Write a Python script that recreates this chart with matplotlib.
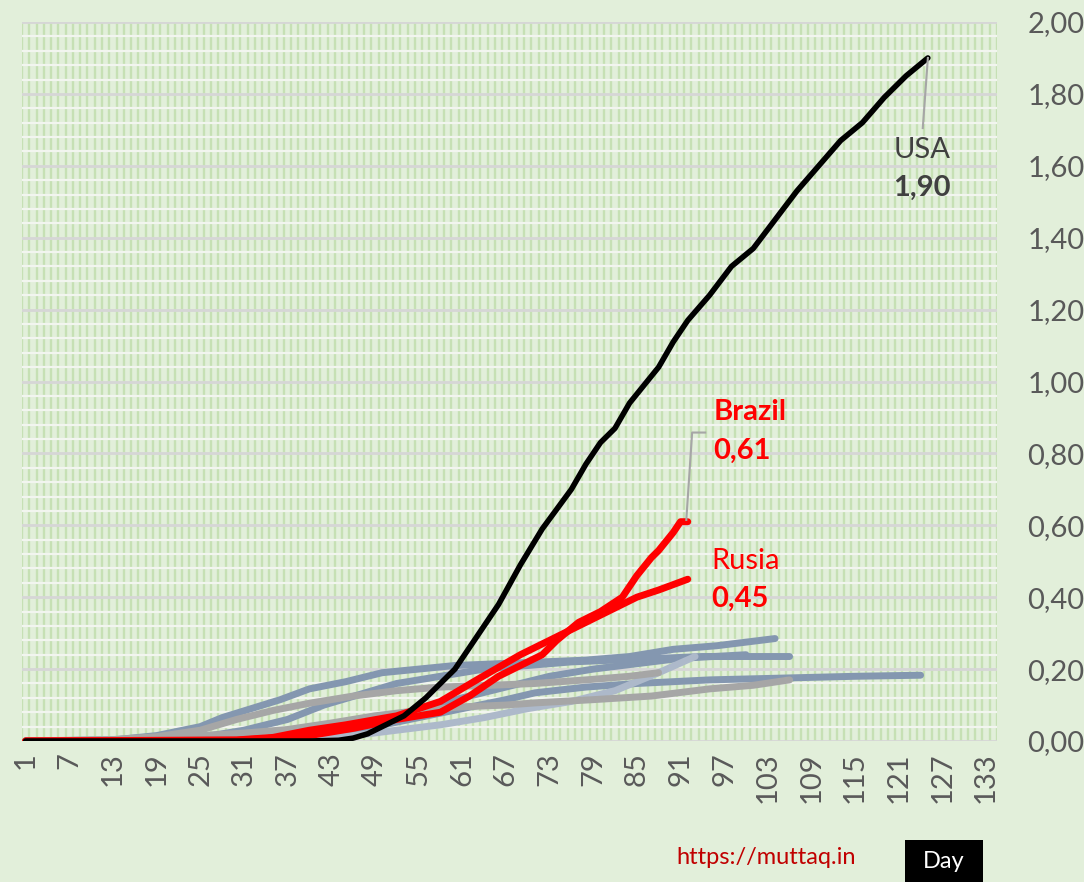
import numpy as np
import matplotlib.pyplot as plt
from matplotlib.ticker import FixedLocator, FuncFormatter
from matplotlib.patches import Rectangle

plt.rcParams['font.family'] = ['Lato', 'DejaVu Sans']

# background countries (day, value)
a_days = [1, 13, 19, 25, 28, 32, 36, 40, 45, 50, 55, 60, 66, 72, 78, 84, 90, 96, 104]
a_vals = [0, 0.003, 0.015, 0.04, 0.065, 0.09, 0.115, 0.145, 0.165, 0.19, 0.2, 0.21, 0.215, 0.22, 0.225, 0.235, 0.255, 0.265, 0.285]

b_days = [1, 13, 19, 25, 30, 35, 40, 46, 52, 58, 65, 71, 78, 84, 88]
b_vals = [0, 0.004, 0.012, 0.03, 0.06, 0.085, 0.105, 0.125, 0.14, 0.15, 0.155, 0.16, 0.17, 0.18, 0.19]

c_days = [1, 19, 25, 31, 37, 42, 47, 52, 58, 64, 70, 76, 82, 88, 94, 100, 106]
c_vals = [0, 0.003, 0.01, 0.03, 0.06, 0.1, 0.13, 0.16, 0.18, 0.2, 0.21, 0.22, 0.225, 0.23, 0.235, 0.235, 0.235]

d_days = [1, 31, 37, 43, 49, 55, 61, 67, 73, 79, 85, 91, 100]
d_vals = [0, 0.002, 0.008, 0.025, 0.05, 0.085, 0.12, 0.15, 0.18, 0.2, 0.215, 0.23, 0.24]

e_days = [1, 40, 46, 52, 58, 64, 70, 76, 82, 88, 93]
e_vals = [0, 0.003, 0.015, 0.03, 0.045, 0.065, 0.09, 0.11, 0.14, 0.19, 0.235]

f_days = [1, 31, 37, 43, 49, 55, 61, 67, 71, 78, 85, 95, 105, 115, 124]
f_vals = [0, 0.003, 0.008, 0.02, 0.04, 0.065, 0.09, 0.115, 0.134, 0.15, 0.16, 0.17, 0.175, 0.18, 0.183]

g_days = [1, 13, 19, 25, 31, 37, 43, 49, 55, 61, 67, 71, 79, 87, 95, 101, 106]
g_vals = [0, 0.003, 0.008, 0.015, 0.022, 0.032, 0.05, 0.07, 0.085, 0.095, 0.1, 0.106, 0.115, 0.125, 0.145, 0.155, 0.17]

brazil_days = [1, 30, 40, 46, 52, 58, 62, 66, 72, 74, 77, 80, 83, 85, 87, 88, 90, 91, 92]
brazil_vals = [0, 0.002, 0.015, 0.035, 0.06, 0.08, 0.125, 0.18, 0.24, 0.28, 0.33, 0.36, 0.4, 0.46, 0.51, 0.53, 0.58, 0.61, 0.61]

rusia_days = [1, 30, 35, 40, 45, 52, 58, 63, 69, 72, 75, 80, 85, 88, 92]
rusia_vals = [0, 0.003, 0.01, 0.03, 0.045, 0.07, 0.11, 0.17, 0.24, 0.27, 0.3, 0.35, 0.4, 0.42, 0.45]

usa_days = [1, 40, 44, 46, 48, 50, 53, 56, 58, 60, 62, 64, 66, 69, 72, 76, 78, 80, 82, 84, 86, 88, 90, 92, 95, 98, 101, 104, 107, 110, 113, 116, 119, 122, 125]
usa_vals = [0, 0.0, 0.002, 0.008, 0.02, 0.04, 0.07, 0.12, 0.16, 0.2, 0.26, 0.32, 0.38, 0.49, 0.59, 0.7, 0.77, 0.83, 0.87, 0.94, 0.99, 1.04, 1.11, 1.17, 1.24, 1.32, 1.37, 1.45, 1.53, 1.6, 1.67, 1.72, 1.79, 1.85, 1.9]

bluegray = '#8497b0'
gray = '#a6a6a6'
light = '#adb9ca'
bg = '#e2efda'

fig = plt.figure(figsize=(10.84, 8.82), dpi=100, facecolor=bg)
ax = fig.add_axes([22/1084, 1-741/882, 975/1084, 719/882])
ax.set_facecolor(bg)

lw = 5
bglines = [(d_days, d_vals, bluegray), (c_days, c_vals, bluegray), (a_days, a_vals, bluegray),
           (f_days, f_vals, bluegray), (e_days, e_vals, light), (g_days, g_vals, gray),
           (b_days, b_vals, gray)]
for dd, vv, col in bglines:
    ax.plot(dd, vv, color=col, lw=lw, solid_capstyle='round', solid_joinstyle='round', zorder=3)

ax.plot(rusia_days, rusia_vals, color='#ff0000', lw=5, solid_capstyle='round', solid_joinstyle='round', zorder=4)
ax.plot(brazil_days, brazil_vals, color='#ff0000', lw=5, solid_capstyle='round', solid_joinstyle='round', zorder=4)
ax.plot(usa_days, usa_vals, color='black', lw=4, solid_capstyle='round', solid_joinstyle='round', zorder=5)

ax.set_xlim(0.5, 134.5)
ax.set_ylim(0, 2.0)

# grids
ax.xaxis.set_major_locator(FixedLocator(np.arange(1, 134, 6)))
ax.xaxis.set_minor_locator(FixedLocator(np.arange(0.5, 135, 1)))
ax.yaxis.set_major_locator(FixedLocator(np.arange(0, 2.01, 0.2)))
ax.yaxis.set_minor_locator(FixedLocator(np.arange(0, 2.01, 0.04)))
ax.grid(axis='x', which='minor', color='#c6e0b4', lw=1.7, zorder=0)
ax.grid(axis='x', which='major', visible=False)
ax.grid(axis='y', which='minor', color='#f2f5ef', lw=1.6, zorder=1)
ax.grid(axis='y', which='major', color='#d6d6d6', lw=2.0, zorder=1)
ax.set_axisbelow(True)
for s in ax.spines.values():
    s.set_visible(False)

ax.yaxis.tick_right()
ax.yaxis.set_major_formatter(FuncFormatter(lambda v, p: f'{v:.2f}'.replace('.', ',')))
ax.tick_params(axis='both', which='both', length=0)
ax.tick_params(axis='y', labelsize=21, labelcolor='#595959', pad=22)
ax.tick_params(axis='x', labelsize=21, labelcolor='#595959', pad=8, labelrotation=90)

# labels
ax.plot([125, 124.3], [1.9, 1.705], color='#a6a6a6', lw=1.5, zorder=6)
ax.text(124.2, 1.643, 'USA', color='#404040', fontsize=21, ha='center', va='center')
ax.text(124.2, 1.538, '1,90', color='#404040', fontsize=21, fontweight='bold', ha='center', va='center')

ax.plot([91.8, 92.6, 94.4], [0.615, 0.858, 0.858], color='#a6a6a6', lw=1.5, zorder=6)
ax.text(95.5, 0.914, 'Brazil', color='#ff0000', fontsize=21, fontweight='bold', ha='left', va='center')
ax.text(95.5, 0.808, '0,61', color='#ff0000', fontsize=21, fontweight='bold', ha='left', va='center')
ax.text(95.2, 0.501, 'Rusia', color='#ff0000', fontsize=21, ha='left', va='center')
ax.text(95.2, 0.396, '0,45', color='#ff0000', fontsize=21, fontweight='bold', ha='left', va='center')

fig.text(766/1084, 1-858/882, 'https://muttaq.in', color='#c00000', fontsize=17, ha='center', va='center')
fig.patches.append(Rectangle((905/1084, 0), 78/1084, 42/882, transform=fig.transFigure, facecolor='black', edgecolor='none'))
fig.text(944/1084, 1-862/882, 'Day', color='white', fontsize=17, ha='center', va='center')

fig.savefig('out.png', dpi=100, facecolor=bg)
